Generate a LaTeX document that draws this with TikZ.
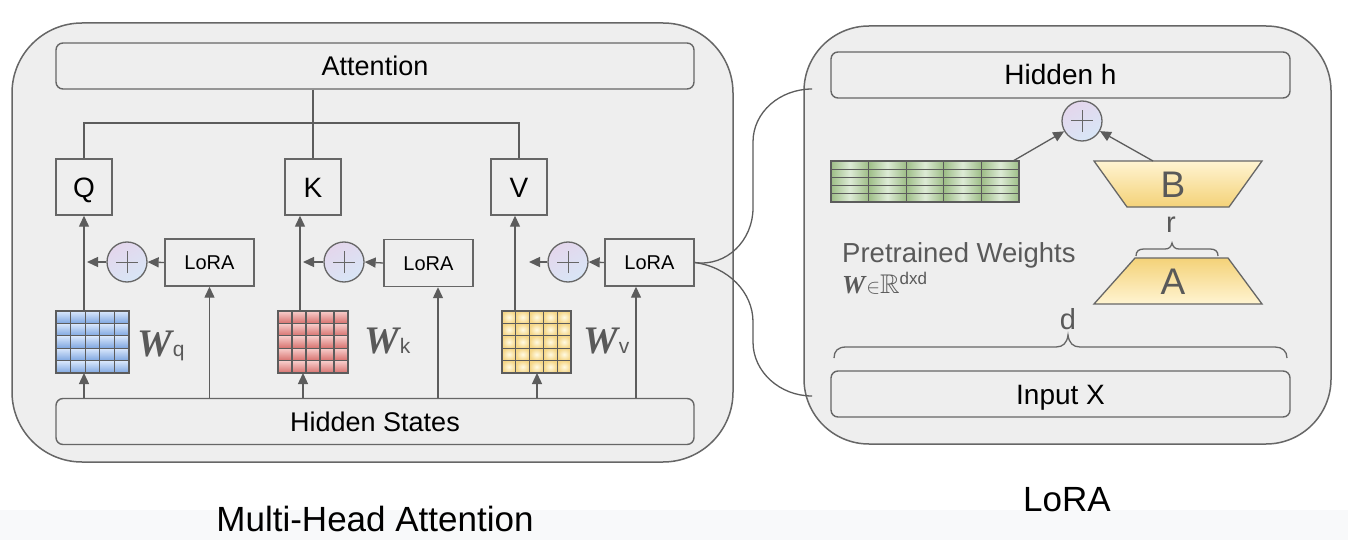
\documentclass[tikz,border=0pt]{standalone}
\usepackage{fontspec}
\usepackage{amssymb}
\setmainfont{Liberation Sans}
\newfontfamily\wfont{Liberation Serif}
\usetikzlibrary{arrows.meta}
\definecolor{panel}{HTML}{EEEEEE}
\definecolor{edge}{HTML}{666666}
\definecolor{ln}{HTML}{5C5C5C}
\definecolor{txtg}{HTML}{595959}
\definecolor{band}{HTML}{F8F9FA}
\definecolor{pltop}{HTML}{E4D6EC}
\definecolor{plbot}{HTML}{D8E6F6}
\definecolor{qtop}{HTML}{DAE8FC}
\definecolor{qbot}{HTML}{7EA6E0}
\definecolor{ktop}{HTML}{F8CECC}
\definecolor{kbot}{HTML}{D7716E}
\definecolor{vin}{HTML}{FFFAE3}
\definecolor{vout}{HTML}{F5D686}
\definecolor{gedge}{HTML}{9DBD86}
\definecolor{gmid}{HTML}{DDEBD6}
\definecolor{ylight}{HTML}{FFF4D2}
\definecolor{ydark}{HTML}{F4D278}
\begin{document}
\begin{tikzpicture}[x=1pt,y=-1pt,
  panelbox/.style={draw=edge,fill=panel,line width=1.5pt,rounded corners=#1,inner sep=0pt},
  widebox/.style={draw=edge,fill=panel,line width=1.4pt,rounded corners=7pt,inner sep=0pt,
     minimum height=46pt,font=\fontsize{27}{27}\selectfont,text height=19.4pt,text depth=0pt},
  sqbox/.style={draw=edge,fill=panel,line width=1.4pt,minimum size=56pt,inner sep=0pt,
     font=\fontsize{28}{28}\selectfont,text height=20pt,text depth=0pt},
  lorabox/.style={draw=edge,fill=panel,line width=1.4pt,minimum width=89pt,minimum height=47pt,inner sep=0pt,
     font=\fontsize{20}{20}\selectfont,text height=14.3pt,text depth=0pt},
  plus/.style={circle,draw=edge,line width=1.3pt,minimum size=40pt,inner sep=0pt,
     top color=pltop,bottom color=plbot,shading angle=30,
     path picture={\draw[edge,line width=1pt]
        ([xshift=-11pt]path picture bounding box.center) -- ([xshift=11pt]path picture bounding box.center)
        ([yshift=-11pt]path picture bounding box.center) -- ([yshift=11pt]path picture bounding box.center);}},
  gridbox/.style={inner sep=0pt,outer sep=0pt},
  cell/.style={draw=ln,line width=1.1pt},
  conn/.style={draw=ln,line width=1.3pt},
  arr/.style={draw=ln,line width=1.3pt,-{Triangle[length=11pt,width=10pt]}},
  trap/.style={draw=edge,line width=1.3pt},
  trlab/.style={text=txtg,font=\fontsize{37}{37}\selectfont,inner sep=0pt,text height=26.5pt,text depth=0pt},
  glab/.style={text=txtg,inner sep=0pt,anchor=base},
  wlab/.style={text=txtg,inner sep=0pt,anchor=base west},
  title/.style={font=\fontsize{35}{35}\selectfont,inner sep=0pt,anchor=base}
]
\useasboundingbox (0,0) rectangle (1348,540);
\fill[white] (0,0) rectangle (1348,540);
\fill[band] (0,510) rectangle (1348,540);

% panels
\node[panelbox=70pt,minimum width=721pt,minimum height=439pt] (mha) at (372.5,242.5) {};
\node[panelbox=65pt,minimum width=527pt,minimum height=418pt] (lora) at (1067.5,235) {};

% ---------- left panel ----------
\node[widebox,minimum width=638pt] (att) at (375,66) {Attention};
\node[widebox,minimum width=638pt] (hs) at (375,421.5) {Hidden States};
\node[sqbox] (q) at (84,187) {Q};
\node[sqbox] (k) at (313,187) {K};
\node[sqbox] (v) at (519,187) {V};
\node[lorabox] (lq) at (209.5,262.5) {LoRA};
\node[lorabox] (lk) at (428.5,263) {LoRA};
\node[lorabox] (lv) at (649.5,262.5) {LoRA};
\node[plus] (pq) at (127,262) {};
\node[plus] (pk) at (344,262) {};
\node[plus] (pv) at (568,262) {};

% grids
\node[gridbox,minimum width=73pt,minimum height=62pt] (wq) at (92.5,342) {};
\begin{scope}[shift={(wq.north west)}]
\foreach \i in {0,...,4}{\foreach \j in {0,...,4}{
  \shadedraw[cell,top color=qtop,bottom color=qbot] (\i*14.6,\j*12.4) rectangle ++(14.6,12.4);}}
\end{scope}
\node[gridbox,minimum width=70pt,minimum height=62pt] (wk) at (313,342) {};
\begin{scope}[shift={(wk.north west)}]
\foreach \i in {0,...,4}{\foreach \j in {0,...,4}{
  \shadedraw[cell,top color=ktop,bottom color=kbot] (\i*14,\j*12.4) rectangle ++(14,12.4);}}
\end{scope}
\node[gridbox,minimum width=69pt,minimum height=62pt] (wv) at (536.5,342) {};
\begin{scope}[shift={(wv.north west)}]
\foreach \i in {0,...,4}{\foreach \j in {0,...,4}{
  \shadedraw[cell,inner color=vin,outer color=vout] (\i*13.8,\j*12.4) rectangle ++(13.8,12.4);}}
\end{scope}

% W labels
\node[wlab] (wql) at (137,356) {{\fontsize{39}{39}\selectfont\wfont\bfseries\itshape W}\hspace{1pt}{\fontsize{21}{21}\selectfont q}};
\node[wlab] (wkl) at (364,353) {{\fontsize{39}{39}\selectfont\wfont\bfseries\itshape W}\hspace{1pt}{\fontsize{21}{21}\selectfont k}};
\node[wlab] (wvl) at (583,353) {{\fontsize{39}{39}\selectfont\wfont\bfseries\itshape W}\hspace{1pt}{\fontsize{21}{21}\selectfont v}};

% connectors: attention bus
\coordinate (bus) at (313,123);
\draw[conn] (att.south -| k.north) -- (k.north);
\draw[conn] (q.north) |- (bus) -| (v.north);

% column x positions
\coordinate (xq) at (84,0);
\coordinate (xk) at (300,0);
\coordinate (xkb) at (303,0);
\coordinate (xv) at (515,0);
\coordinate (xvb) at (537,0);
\coordinate (xlk) at (438,0);
\coordinate (xlv) at (636,0);
\coordinate (tq) at (87,262);
\coordinate (tk) at (303,262);
\coordinate (tv) at (529,262);

% Q column
\draw[arr] (wq.north -| xq) -- (q.south -| xq);
\draw[arr] (hs.north -| xq) -- (wq.south -| xq);
\draw[arr] (hs.north -| lq.south) -- (lq.south);
\draw[arr] (lq.west) -- (pq.east);
\draw[arr] (pq.west) -- (tq);
% K column
\draw[arr] (wk.north -| xk) -- (k.south -| xk);
\draw[arr] (hs.north -| xkb) -- (wk.south -| xkb);
\draw[arr] (hs.north -| xlk) -- (lk.south -| xlk);
\draw[arr] (lk.west) -- (pk.east);
\draw[arr] (pk.west) -- (tk);
% V column
\draw[arr] (wv.north -| xv) -- (v.south -| xv);
\draw[arr] (hs.north -| xvb) -- (wv.south -| xvb);
\draw[arr] (hs.north -| xlv) -- (lv.south -| xlv);
\draw[arr] (lv.west) -- (pv.east);
\draw[arr] (pv.west) -- (tv);

% ---------- links between panels ----------
\coordinate (cup) at (812,89);
\coordinate (cdn) at (812,396);
\draw[conn] (lv.east) .. controls (727,267) and (753,240) .. (753,208) -- (753,142)
   .. controls (753,112) and (780,89) .. (cup);
\draw[conn] (lv.east) .. controls (728,267) and (753,292) .. (753,322) -- (753,342)
   .. controls (753,372) and (780,396) .. (cdn);

% ---------- right panel ----------
\node[widebox,minimum width=459pt,font=\fontsize{28}{28}\selectfont,text height=20pt] (hh) at (1060.5,75) {Hidden h};
\node[widebox,minimum width=459pt,font=\fontsize{28}{28}\selectfont,text height=20pt] (ix) at (1060.5,394) {Input X};
\node[plus] (pr) at (1082,121) {};

\node[gridbox,minimum width=188pt,minimum height=41pt] (wg) at (925,181.5) {};
\begin{scope}[shift={(wg.north west)}]
\foreach \i in {0,...,4}{\foreach \j in {0,...,4}{
  \shadedraw[cell,left color=gedge,right color=gedge,middle color=gmid] (\i*37.6,\j*8.2) rectangle ++(37.6,8.2);}}
\end{scope}

\shadedraw[trap,top color=ylight,bottom color=ydark] (1094,161) -- (1262,161) -- (1229,207) -- (1127,207) -- cycle;
\node[trlab] (bl) at (1173,184) {B};
\shadedraw[trap,top color=ydark,bottom color=ylight] (1135,258) -- (1228,258) -- (1262,304) -- (1094,304) -- cycle;
\node[trlab] (al) at (1173,281) {A};

\coordinate (gs) at (1013,161);
\coordinate (bs) at (1153,161);
\draw[arr] (gs) -- (pr);
\draw[arr] (bs) -- (pr);

% r brace
\node[glab,font=\fontsize{29}{29}\selectfont] (rl) at (1171,232) {r};
\draw[trap] (1136,256) .. controls (1136,251) and (1139,249) .. (1144,249) -- (1165,249)
   .. controls (1169,249) and (1171,247) .. (1172,243)
   .. controls (1173,247) and (1175,249) .. (1179,249) -- (1210,249)
   .. controls (1215,249) and (1218,251) .. (1218,256);
% d brace
\node[glab,font=\fontsize{29}{29}\selectfont] (dl) at (1068,329) {d};
\draw[trap] (834,358) .. controls (834,351) and (838,347) .. (846,347) -- (1056,347)
   .. controls (1063,347) and (1067,343) .. (1068,335)
   .. controls (1069,343) and (1073,347) .. (1080,347) -- (1275,347)
   .. controls (1282,347) and (1287,351) .. (1287,358);

% pretrained weights text
\node[wlab,font=\fontsize{27.5}{27.5}\selectfont] (ptw) at (842,262) {Pretrained Weights};
\node[wlab] (wr) at (842,293) {{\fontsize{26}{26}\selectfont\wfont\bfseries\itshape W}\hspace{1pt}{\fontsize{20}{20}\selectfont$\in$}{\fontsize{27}{27}\selectfont$\mathbb{R}$}\raisebox{9pt}{\fontsize{17}{17}\selectfont dxd}};

% titles
\node[title] (t1) at (375,531) {Multi-Head Attention};
\node[title] (t2) at (1067,511) {LoRA};
\end{tikzpicture}
\end{document}
